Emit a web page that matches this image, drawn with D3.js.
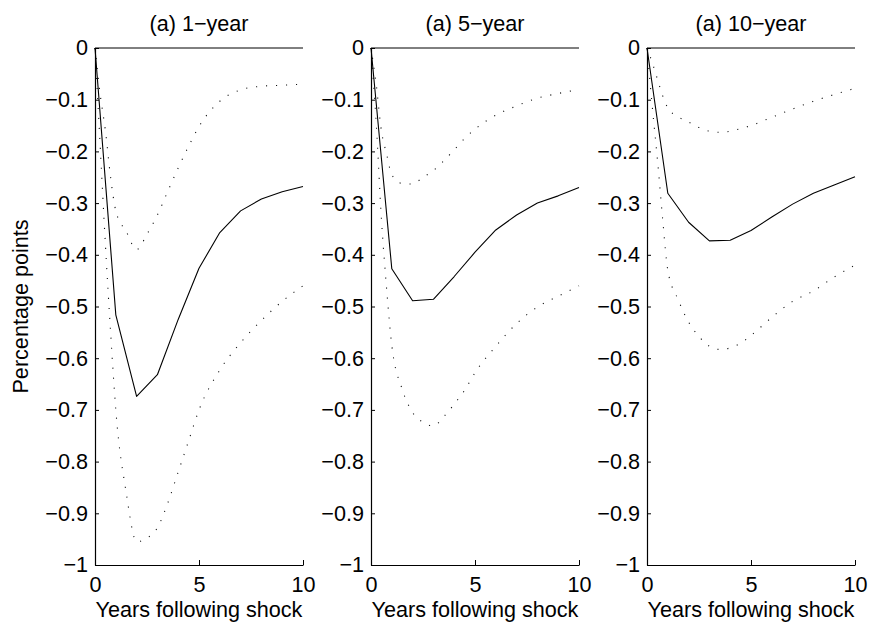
<!DOCTYPE html>
<html>
<head>
<meta charset="utf-8">
<script src="https://cdn.jsdelivr.net/npm/d3@7"></script>
<style>
  html, body { margin: 0; padding: 0; background: #fff; }
  svg { display: block; }
  text { font-family: "Liberation Sans", Arial, Helvetica, sans-serif; fill: #000; }
</style>
</head>
<body>
<svg id="chart" width="873" height="624"></svg>
<script>
// Impulse responses of yields to a shock, with confidence bands
const panelTitles = ["(a) 1\u2212year", "(a) 5\u2212year", "(a) 10\u2212year"];

// Point estimate, one value per year 0..10
const years = [0, 1, 2, 3, 4, 5, 6, 7, 8, 9, 10];
const response1y  = [0, -0.516, -0.674, -0.632, -0.525, -0.426, -0.357, -0.315, -0.292, -0.278, -0.268];
const response5y  = [0, -0.427, -0.489, -0.486, -0.442, -0.395, -0.352, -0.323, -0.300, -0.286, -0.270];
const response10y = [0, -0.281, -0.337, -0.373, -0.372, -0.353, -0.327, -0.302, -0.281, -0.265, -0.249];

// Confidence bands, sampled on a finer horizon grid
const bandYears = [0, 0.25, 0.5, 0.75, 1, 1.5, 2, 2.5, 3, 3.5, 4, 4.5, 5, 6, 7, 8, 9, 10];
const upper1y  = [0, -0.09, -0.16, -0.25, -0.315, -0.355, -0.39, -0.36, -0.323, -0.277, -0.232, -0.19, -0.152, -0.103, -0.081, -0.074, -0.072, -0.070];
const lower1y  = [0, -0.19, -0.38, -0.55, -0.70, -0.86, -0.955, -0.948, -0.928, -0.88, -0.82, -0.76, -0.70, -0.623, -0.57, -0.527, -0.49, -0.46];
const upper5y  = [0, -0.07, -0.16, -0.205, -0.245, -0.262, -0.263, -0.25, -0.237, -0.218, -0.197, -0.175, -0.157, -0.13, -0.112, -0.097, -0.088, -0.080];
const lower5y  = [0, -0.145, -0.33, -0.465, -0.575, -0.66, -0.705, -0.724, -0.731, -0.713, -0.689, -0.662, -0.628, -0.577, -0.533, -0.501, -0.48, -0.46];
const upper10y = [0, -0.028, -0.06, -0.092, -0.116, -0.133, -0.143, -0.154, -0.161, -0.163, -0.161, -0.156, -0.15, -0.134, -0.118, -0.103, -0.09, -0.078];
const lower10y = [0, -0.112, -0.215, -0.33, -0.43, -0.487, -0.53, -0.558, -0.577, -0.583, -0.58, -0.571, -0.556, -0.521, -0.49, -0.47, -0.443, -0.42];

const xTicks = [0, 5, 10];
const yTicks = [0, -0.1, -0.2, -0.3, -0.4, -0.5, -0.6, -0.7, -0.8, -0.9, -1];

const xLabel = "Years following shock";
const yLabel = "Percentage points";

const panels = [
  { title: panelTitles[0], mid: response1y,  upper: upper1y,  lower: lower1y },
  { title: panelTitles[1], mid: response5y,  upper: upper5y,  lower: lower5y },
  { title: panelTitles[2], mid: response10y, upper: upper10y, lower: lower10y }
];

const svg = d3.select("#chart");
const panelLefts = [95, 371, 647];
const panelWidth = 208;
const plotTop = 48, plotBottom = 565;
const fontSize = 21.6;

const fmtY = v => v === 0 ? "0" : "\u2212" + d3.format("")(Math.abs(v));

panels.forEach((p, i) => {
  const left = panelLefts[i];
  const x = d3.scaleLinear().domain([0, 10]).range([left, left + panelWidth]);
  const y = d3.scaleLinear().domain([-1, 0]).range([plotBottom, plotTop]);
  const g = svg.append("g");

  // zero reference line
  g.append("line")
    .attr("x1", x(0)).attr("x2", x(10))
    .attr("y1", y(0)).attr("y2", y(0))
    .attr("stroke", "#000").attr("stroke-width", 1);

  const bandLine = d3.line()
    .x((d, k) => x(bandYears[k]))
    .y(d => y(d))
    .curve(d3.curveMonotoneX);

  [p.upper, p.lower].forEach(band => {
    g.append("path")
      .attr("d", bandLine(band))
      .attr("fill", "none")
      .attr("stroke", "#111")
      .attr("stroke-width", 1.1)
      .attr("stroke-dasharray", "1.1,8.9");
  });

  const midLine = d3.line()
    .x((d, k) => x(years[k]))
    .y(d => y(d));

  g.append("path")
    .attr("d", midLine(p.mid))
    .attr("fill", "none")
    .attr("stroke", "#000")
    .attr("stroke-width", 1.1)
    .attr("stroke-linejoin", "round");

  // axes
  const xAxis = d3.axisBottom(x)
    .tickValues(xTicks)
    .tickFormat(d3.format("d"))
    .tickSizeInner(-5)
    .tickSizeOuter(0)
    .tickPadding(12);
  const gx = g.append("g")
    .attr("transform", `translate(0,${plotBottom})`)
    .call(xAxis);

  const yAxis = d3.axisLeft(y)
    .tickValues(yTicks)
    .tickFormat(fmtY)
    .tickSizeInner(-4)
    .tickSizeOuter(0)
    .tickPadding(7);
  const gy = g.append("g")
    .attr("transform", `translate(${left},0)`)
    .call(yAxis);

  [gx, gy].forEach(a => {
    a.attr("font-family", null).attr("font-size", null);
    a.select(".domain").attr("stroke", "#000").attr("stroke-width", 1.2);
    a.selectAll(".tick line").attr("stroke", "#000").attr("stroke-width", 1);
    a.selectAll(".tick text")
      .attr("fill", "#000")
      .style("font-family", '"Liberation Sans", Arial, sans-serif')
      .style("font-size", fontSize + "px");
  });

  // title
  g.append("text")
    .attr("x", (x(0) + x(10)) / 2)
    .attr("y", 31)
    .attr("text-anchor", "middle")
    .style("font-size", fontSize + "px")
    .text(p.title);

  // x label
  g.append("text")
    .attr("x", (x(0) + x(10)) / 2)
    .attr("y", 617)
    .attr("text-anchor", "middle")
    .style("font-size", fontSize + "px")
    .text(xLabel);
});

svg.append("text")
  .attr("transform", `translate(28,${(plotTop + plotBottom) / 2}) rotate(-90)`)
  .attr("text-anchor", "middle")
  .style("font-size", fontSize + "px")
  .text(yLabel);
</script>
</body>
</html>
